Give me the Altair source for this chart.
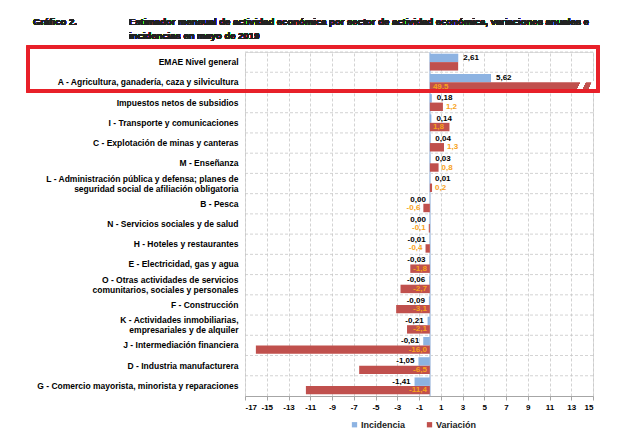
import altair as alt
import pandas as pd

categorias = [
    "EMAE Nivel general",
    "A -  Agricultura, ganadería, caza y silvicultura",
    "Impuestos netos de subsidios",
    "I - Transporte y comunicaciones",
    "C - Explotación de minas y canteras",
    "M - Enseñanza",
    "L - Administración pública y defensa; planes de\nseguridad social de afiliación obligatoria",
    "B - Pesca",
    "N - Servicios sociales y de salud",
    "H - Hoteles y restaurantes",
    "E - Electricidad, gas y agua",
    "O - Otras actividades de servicios \ncomunitarios, sociales y personales",
    "F - Construcción",
    "K - Actividades inmobiliarias,\nempresariales y de alquiler ",
    "J - Intermediación financiera",
    "D - Industria manufacturera",
    "G - Comercio mayorista, minorista y reparaciones",
]
incidencia = [2.61, 5.62, 0.18, 0.14, 0.04, 0.03, 0.01, 0.00, 0.00, -0.01,
              -0.03, -0.06, -0.09, -0.21, -0.61, -1.05, -1.41]
variacion = [2.6, 49.5, 1.2, 1.8, 1.3, 0.8, 0.2, -0.6, -0.1, -0.4,
             -1.8, -2.7, -3.1, -2.1, -16.0, -6.5, -11.4]
series = ["Incidencia", "Variación"]
x_ticks = list(range(-17, 16, 2))

titulo_num = "Gráfico 2."
titulo = ["Estimador mensual de actividad económica por sector de actividad económica, variaciones anuales e",
          "incidencias en mayo de 2019"]

rows = []
for c, i, v in zip(categorias, incidencia, variacion):
    rows.append({"categoria": c, "serie": "Incidencia", "valor": i,
                 "label": f"{i:.2f}".replace(".", ",")})
    rows.append({"categoria": c, "serie": "Variación", "valor": v,
                 "label": f"{v:.1f}".replace(".", ",")})
df = pd.DataFrame(rows)
df_cat = pd.DataFrame({"categoria": categorias})

FONT = "Liberation Sans"
BLUE = "#8DB3E2"
RED = "#C0504D"
ORANGE = "#F7A21B"

xscale = alt.Scale(domain=[-17, 15], clamp=True, nice=False, zero=False)
yscale = alt.Scale(domain=categorias, paddingInner=0, paddingOuter=0)
yoff = alt.YOffset("serie:N", sort=series,
                   scale=alt.Scale(domain=series, paddingOuter=0.2, paddingInner=0))

yaxis = alt.Axis(title=None, ticks=False, domain=False, grid=False,
                 labelFont=FONT, labelFontSize=8.5, labelFontWeight="bold",
                 labelColor="#000000", labelPadding=7, labelLimit=300,
                 labelLineHeight=10,
                 labelOffset={"condition": {"test": "indexof(datum.label, '\\n') >= 0", "value": -5},
                              "value": 0},
                 labelExpr="split(datum.label, '\\n')")
xaxis = alt.Axis(title=None, values=x_ticks, grid=True, labelOverlap=False,
                 labelExpr="toString(datum.value)",
                 gridColor="#C8C8C8", gridDash=[3, 2], gridWidth=0.8,
                 domainColor="#A6A6A6", tickColor="#A6A6A6", tickSize=4,
                 labelFont=FONT, labelFontSize=8, labelFontWeight="bold",
                 labelColor="#000000", labelPadding=3)

Y = alt.Y("categoria:N", sort=categorias, scale=yscale, axis=yaxis)

base = alt.Chart(df)

hgrid = alt.Chart(df_cat).mark_rule(color="#C8C8C8", strokeDash=[3, 2], strokeWidth=0.8).encode(
    y=alt.Y("categoria:N", sort=categorias, scale=yscale, bandPosition=0, axis=yaxis)
)

zero = base.mark_rule(color="#C3D3E8", strokeWidth=1.5).encode(x=alt.datum(0, scale=xscale, axis=xaxis))

bars = base.mark_bar().encode(
    x=alt.X("valor:Q", scale=xscale, axis=xaxis),
    y=Y,
    yOffset=yoff,
    color=alt.Color("serie:N", sort=series,
                    scale=alt.Scale(domain=series, range=[BLUE, RED]),
                    legend=alt.Legend(title=None, orient="none", direction="horizontal",
                                      legendX=105, legendY=368, symbolType="square",
                                      symbolSize=28, symbolStrokeWidth=0,
                                      labelFont=FONT, labelFontSize=9,
                                      labelFontWeight="bold", labelColor="#222222",
                                      labelOffset=2, columnPadding=19, padding=0)),
)

X_lab = alt.X("valor:Q", scale=xscale, axis=xaxis)

inc = base.transform_filter(alt.datum.serie == "Incidencia")
inc_pos = inc.transform_filter(alt.datum.valor > 0).mark_text(
    align="left", dx=5, font=FONT, fontSize=8, fontWeight="bold", color="#000000"
).encode(x=X_lab, y=Y, yOffset=yoff, text="label:N")
inc_neg = inc.transform_filter(alt.datum.valor <= 0).mark_text(
    align="right", dx=-4, font=FONT, fontSize=8, fontWeight="bold", color="#000000"
).encode(x=X_lab, y=Y, yOffset=yoff, text="label:N")

var = base.transform_filter(
    (alt.datum.serie == "Variación") & (alt.datum.categoria != categorias[0])
).transform_calculate(lx="abs(datum.valor) >= 1.5 ? 0 : datum.valor")
X_var = alt.X("lx:Q", scale=xscale, axis=xaxis)
var_pos = var.transform_filter(alt.datum.valor > 0).mark_text(
    align="left", dx=3, font=FONT, fontSize=8, fontWeight="bold", color=ORANGE
).encode(x=X_var, y=Y, yOffset=yoff, text="label:N")
var_neg = var.transform_filter(alt.datum.valor <= 0).mark_text(
    align="right", dx=-3, font=FONT, fontSize=8, fontWeight="bold", color=ORANGE
).encode(x=X_var, y=Y, yOffset=yoff, text="label:N")

stripe_shape = "M -0.9 1 L 0 -1 L 0.9 -1 L 0 1 Z"
breaks = alt.layer(*[
    base.mark_point(shape=stripe_shape, filled=True, fill="white", opacity=1,
                    strokeWidth=0, size=100).encode(
        x=alt.datum(bx, scale=xscale, axis=xaxis),
        y=alt.datum(categorias[1], scale=yscale, axis=yaxis),
        yOffset=alt.datum("Variación"),
    ) for bx in (13.9, 14.95)
])

box = base.mark_rect(fillOpacity=0, stroke="#E8202A", strokeWidth=2.5).encode(
    x=alt.value(-217), x2=alt.value(353), y=alt.value(-5), y2=alt.value(39)
)

TFONT = "Liberation Sans"
t_num = base.mark_text(text=titulo_num, align="left", baseline="middle", font=TFONT,
                       fontSize=9.5, fontWeight="bold", color="#222222").encode(
    x=alt.value(-212), y=alt.value(-30.5))
t_main = base.mark_text(text=titulo, align="left", baseline="middle", font=TFONT,
                        fontSize=9.5, fontWeight="bold", color="#222222", lineHeight=14).encode(
    x=alt.value(-116), y=alt.value(-30.5))

chart = alt.layer(hgrid, zero, bars, inc_pos, inc_neg, var_pos, var_neg, breaks, box, t_num, t_main).properties(
    width=348, height=344,
    autosize=alt.AutoSizeParams(type="none"),
    padding={"left": 237, "top": 44, "right": 29, "bottom": 33},
).configure_view(strokeWidth=0).configure(background="white")

chart.save("out.html", embed_options={"renderer": "svg", "actions": False})
